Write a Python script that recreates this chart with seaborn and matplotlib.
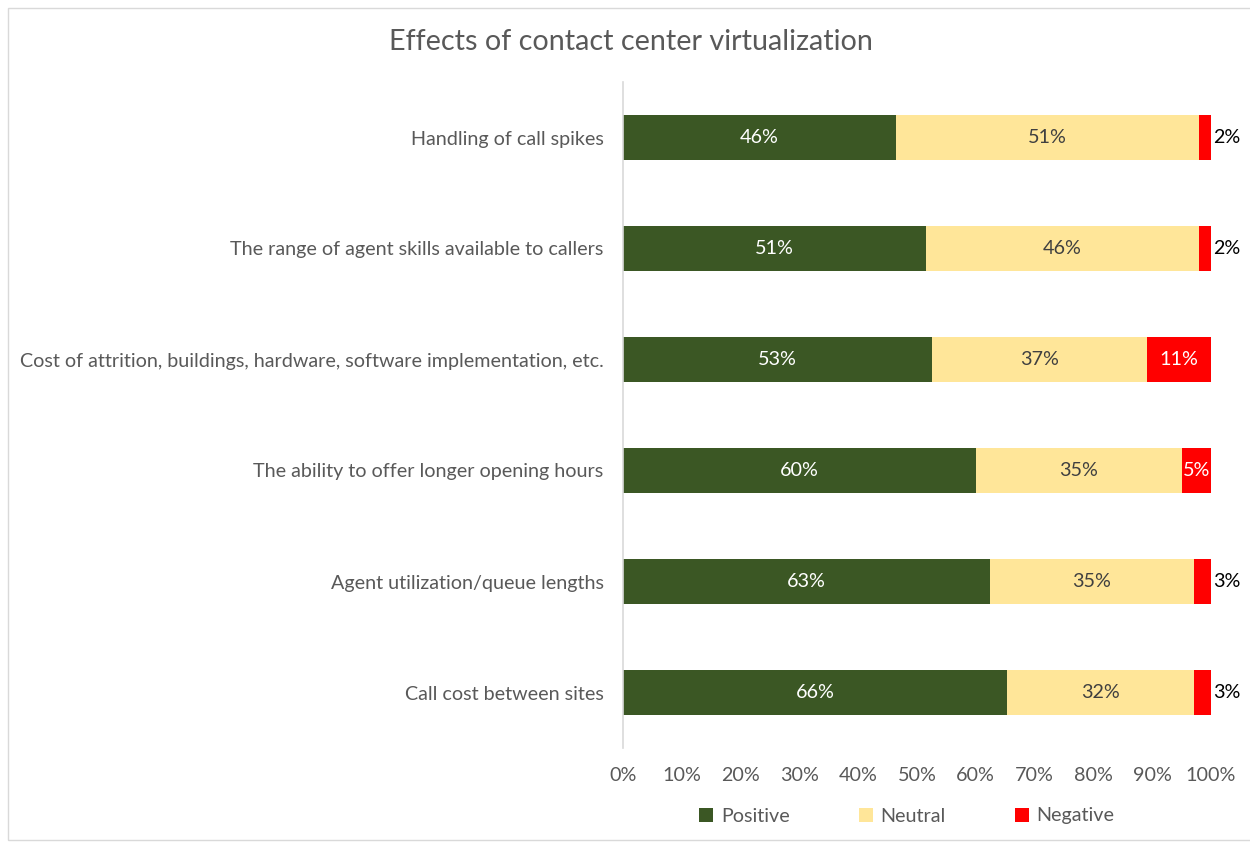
import matplotlib
matplotlib.use("Agg")
import matplotlib.pyplot as plt
import seaborn as sns
import pandas as pd
import numpy as np
from matplotlib.patches import Rectangle, Patch

categories = [
    "Handling of call spikes",
    "The range of agent skills available to callers",
    "Cost of attrition, buildings, hardware, software implementation, etc.",
    "The ability to offer longer opening hours",
    "Agent utilization/queue lengths",
    "Call cost between sites",
]
positive = [46, 51, 53, 60, 63, 66]
neutral = [51, 46, 37, 35, 35, 32]
negative = [2, 2, 11, 5, 3, 3]
series_names = ["Positive", "Neutral", "Negative"]
colors = ["#3B5724", "#FFE699", "#FF0000"]
xticks = [0, 10, 20, 30, 40, 50, 60, 70, 80, 90, 100]

sns.set_theme(style="white")
plt.rcParams["font.family"] = ["Lato", "DejaVu Sans"]

pos = np.array(positive, float)
neu = np.array(neutral, float)
neg = np.array(negative, float)
tot = pos + neu + neg
p_n = pos / tot * 100
n_n = neu / tot * 100
g_n = neg / tot * 100

df = pd.DataFrame({
    "cat": categories,
    "c3": p_n + n_n + g_n,
    "c2": p_n + n_n,
    "c1": p_n,
})

fig = plt.figure(figsize=(12.5, 8.42), dpi=100)
ax = fig.add_axes([623 / 1250, 1 - 748 / 842, 588 / 1250, 666 / 842])

bw = 0.405
for col, c in zip(["c3", "c2", "c1"], colors[::-1]):
    sns.barplot(data=df, y="cat", x=col, orient="h", color=c, width=bw,
                saturation=1, ax=ax, edgecolor="none", linewidth=0)

fs = 14.2
ax.set_xlim(0, 100)
ax.set_ylim(5.5, -0.5)
ax.set_xlabel("")
ax.set_ylabel("")
ax.set_xticks(xticks)
ax.set_xticklabels([f"{t}%" for t in xticks])
for s in ["top", "right", "bottom"]:
    ax.spines[s].set_visible(False)
ax.spines["left"].set_color("#D9D9D9")
ax.spines["left"].set_linewidth(1.2)
ax.tick_params(axis="both", length=0, labelsize=fs, labelcolor="#595959")
ax.tick_params(axis="x", pad=14)
ax.tick_params(axis="y", pad=14)

for i in range(len(categories)):
    ax.text(p_n[i] / 2, i, f"{positive[i]}%", ha="center", va="center",
            color="white", fontsize=fs)
    ax.text(p_n[i] + n_n[i] / 2, i, f"{neutral[i]}%", ha="center", va="center",
            color="#404040", fontsize=fs)
    if negative[i] >= 5:
        ax.text(p_n[i] + n_n[i] + g_n[i] / 2, i, f"{negative[i]}%", ha="center",
                va="center", color="white", fontsize=fs)
    else:
        ax.text(100.4, i, f"{negative[i]}%", ha="left", va="center",
                color="black", fontsize=fs)

fig.text(631 / 1250, 1 - 42 / 842, "Effects of contact center virtualization",
         ha="center", va="center", fontsize=20.7, color="#595959")

handles = [Patch(facecolor=c, edgecolor="none") for c in colors]
leg = fig.legend(handles, series_names, loc="center", ncol=3,
                 bbox_to_anchor=(907 / 1250, 1 - 816 / 842), frameon=False,
                 fontsize=fs, handlelength=0.7, handleheight=0.7,
                 handletextpad=0.4, columnspacing=3.5)
for t in leg.get_texts():
    t.set_color("#595959")

fig.patches.append(Rectangle((8 / 1250, 2 / 842), 1250, 832 / 842,
                             transform=fig.transFigure, fill=False,
                             edgecolor="#D9D9D9", linewidth=1))

fig.savefig("out.png", dpi=100)
